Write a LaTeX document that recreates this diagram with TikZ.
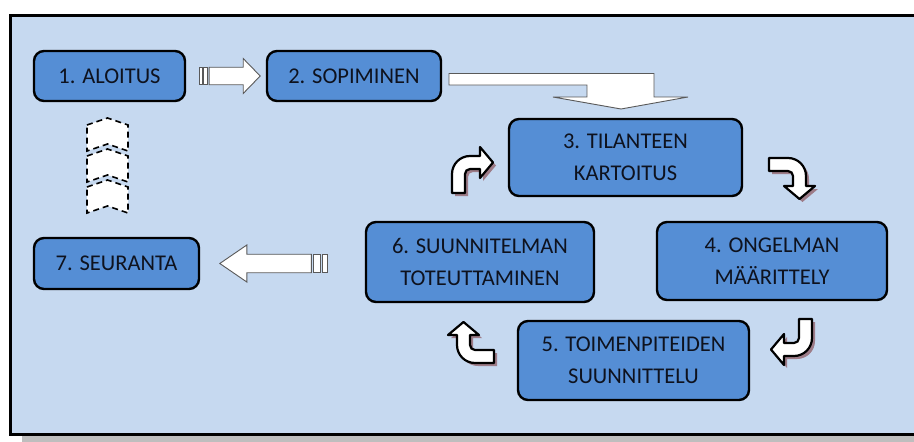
\documentclass[tikz,border=0pt]{standalone}
\usepackage{fontspec}
\setmainfont{Carlito}
\usetikzlibrary{calc}

\definecolor{pagebg}{RGB}{198,217,240}
\definecolor{boxblue}{RGB}{85,142,213}
\definecolor{arrowshade}{RGB}{150,108,118}
\definecolor{framegray}{RGB}{190,190,190}
\definecolor{labelink}{RGB}{14,18,30}

\tikzset{
  stepbox/.style={draw=black, line width=2.4pt, fill=boxblue, rounded corners=10pt,
    align=center, font=\fontsize{22.5}{31.5}\selectfont, text=labelink, inner sep=0pt},
  blockarrow/.style={draw=black!65, line width=0.9pt, fill=white, line join=miter},
  turnbody/.style={draw=black, line width=2.2pt, fill=white, line join=round},
  turnshade/.style={fill=arrowshade, draw=none, opacity=0.85},
  chevronbox/.style={draw=black, line width=1.6pt, dash pattern=on 6pt off 4pt, fill=white},
  % quarter-turn arrow: shaft enters from below, bends right, head points right
  pics/turnarrow/.style={code={
    \path[pic actions] (0,46) -- (0,27) arc[start angle=180,end angle=270,radius=18]
      -- (28,9) -- (28,0) -- (41,15.5) -- (28,31) -- (28,22) -- (18,22)
      arc[start angle=270,end angle=180,radius=5] -- (13,46) -- cycle;
  }},
  % striped block arrow: #1 length, #2 head length, #3 stripe unit, #4 head half-height
  pics/stripedarrow/.style n args={4}{code={
    \path[pic actions] (0,-#4/2) rectangle (#3,#4/2);
    \path[pic actions] (1.5*#3,-#4/2) rectangle (2.8*#3,#4/2);
    \path[pic actions] (3.3*#3,-#4/2) -- (#1-#2,-#4/2) -- (#1-#2,-#4) -- (#1,0)
      -- (#1-#2,#4) -- (#1-#2,#4/2) -- (3.3*#3,#4/2) -- cycle;
  }},
  % upward chevron, origin at its upper left shoulder
  pics/chevronup/.style={code={
    \path[pic actions] (0,0) -- (20.5,-7) -- (41,0) -- (41,26) -- (20.5,19) -- (0,26) -- cycle;
  }},
}

\begin{document}
\begin{tikzpicture}[x=1pt,y=-1pt]
  \useasboundingbox (0,0) rectangle (914,442);
  \fill[white] (0,0) rectangle (914,442);

  % panel with its drop shadow
  \fill[framegray] (22,25) rectangle (930,442);
  \draw[line width=3pt, fill=pagebg] (10.5,15.5) rectangle (930,434.5);

  % process steps
  \node[stepbox, minimum width=151pt, minimum height=50pt] (n1) at (109.5,76) {1. ALOITUS};
  \node[stepbox, minimum width=174pt, minimum height=50pt] (n2) at (354,76) {2. SOPIMINEN};
  \node[stepbox, minimum width=233pt, minimum height=77pt] (n3) at (625.5,157.5) {3. TILANTEEN\\KARTOITUS};
  \node[stepbox, minimum width=230pt, minimum height=78pt] (n4) at (772,261) {4. ONGELMAN\\MÄÄRITTELY};
  \node[stepbox, minimum width=231pt, minimum height=79pt] (n5) at (633.5,360.5) {5. TOIMENPITEIDEN\\SUUNNITTELU};
  \node[stepbox, minimum width=228pt, minimum height=80pt] (n6) at (480,262) {6. SUUNNITELMAN\\TOTEUTTAMINEN};
  \node[stepbox, minimum width=165pt, minimum height=51pt] (n7) at (116.5,263.5) {7. SEURANTA};

  % 1 -> 2
  \pic[blockarrow] at ($(n1.east)+(13,0)$) {stripedarrow={61}{17}{3}{17.5}};

  % 2 -> 3, bent block arrow
  \draw[blockarrow] (449,73.5) -- (654,73.5) -- (654,97) -- (688,97) -- (621,109)
    -- (553,97) -- (587,97) -- (587,85) -- (449,85) -- cycle;

  % cycle 3 -> 4 -> 5 -> 6 -> 3 (rotations are on the flipped y axis)
  \pic[turnshade, rotate=-90] at (818,161) {turnarrow};
  \pic[turnbody,  rotate=-90] at (815,158) {turnarrow};
  \pic[turnshade, rotate=180] at (815,368) {turnarrow};
  \pic[turnbody,  rotate=180] at (812,365) {turnarrow};
  \pic[turnshade, rotate=90]  at (451,366) {turnarrow};
  \pic[turnbody,  rotate=90]  at (448,363) {turnarrow};
  \pic[turnshade] at (455,150) {turnarrow};
  \pic[turnbody]  at (452,147) {turnarrow};

  % 6 -> 7
  \pic[blockarrow, xscale=-1] at ($(n6.west)+(-37,1.5)$) {stripedarrow={108}{27}{5}{18.5}};

  % 7 -> 1, dashed chevrons
  \pic[chevronbox] at (87,187) {chevronup};
  \pic[chevronbox] at (87,156) {chevronup};
  \pic[chevronbox] at (87,125) {chevronup};
\end{tikzpicture}
\end{document}
